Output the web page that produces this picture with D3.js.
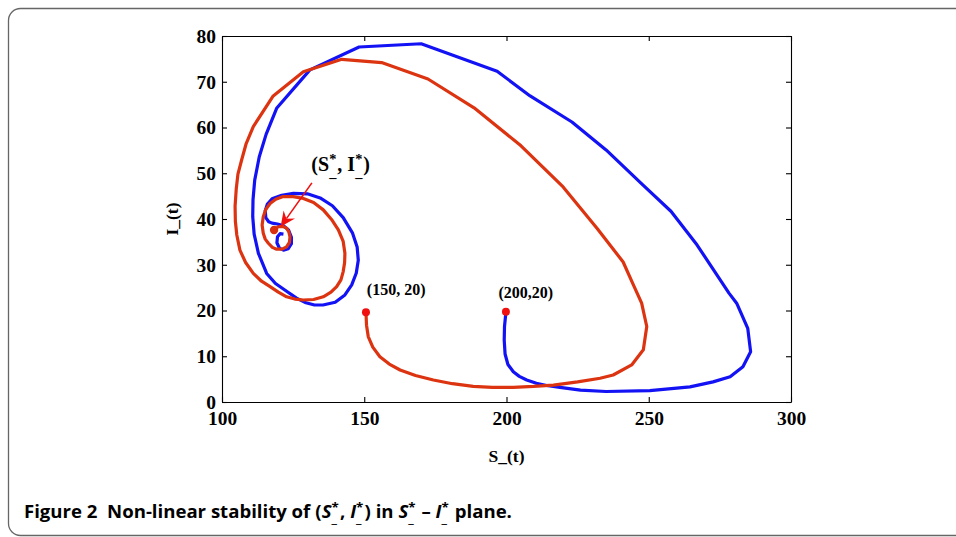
<!DOCTYPE html>
<html>
<head>
<meta charset="utf-8">
<script src="https://cdn.jsdelivr.net/npm/d3@7"></script>
<style>
  body { margin: 0; background: #fff; }
  svg { display: block; }
  .tick text { font-family: "Liberation Serif", serif; font-weight: bold; font-size: 19.5px; fill: #000; }
  .axis path, .axis line { stroke: #000; stroke-width: 1.1; }
  .rich text { white-space: pre; }
</style>
</head>
<body>
<div id="chart"></div>
<script>
// trajectories in the (S_, I_) plane
var blueTraj = [
  [199.8,19.7],[199.3,16.5],[199.2,13.5],[199.5,10.5],[200.5,8.2],[202.4,6.6],[204.5,5.6],[207.1,4.8],
  [210.5,4.1],[214.1,3.6],[218.8,3.2],[226,2.6],[235,2.3],[250.4,2.5],[264.5,3.3],[272.6,4.4],
  [278.6,5.5],[283.1,7.7],[285.8,11],[284.8,16.1],[280.9,21.6],[278.2,23.8],[267,34.3],[257.8,41.7],
  [248,47.4],[235,55.1],[223,61.2],[208.3,66.9],[196.7,72.3],[170,78.3],[148.2,77.6],[130.9,72.6],
  [119.2,64.2],[115.5,58.5],[113.1,53.6],[111.5,48.5],[110.9,44.2],[110.8,40.5],[111.3,36.7],
  [112.8,32.5],[115.7,28.1],[118.8,25.9],[122.7,24.2],[126.2,22.7],[129.5,21.7],[132.5,21.2],
  [135.5,21.2],[139.8,21.8],[143.2,23.4],[145.6,25.6],[147.2,28.2],[147.9,31],[147.5,33.9],
  [145.9,36.9],[142.6,40.3],[138.8,42.9],[134.5,44.6],[130,45.5],[125.1,45.6],[121,45.2],
  [117.6,44.4],[115.9,43.2],[115.2,41.8],[115.4,40.3],[116.4,39.4],[117.6,39.1],[119.5,38.9],
  [121.6,38.5],[123.4,37.6],[124.4,36],[124.4,34.6],[123.3,33.5],[121.6,33.2],[120.2,33.6],
  [119.3,34.8],[119.5,36.1],[120.4,36.8],[121.6,36.7]
];
var redTraj = [
  [150.6,19.6],[150.8,16.8],[151.4,14.3],[153,12],[155.5,9.9],[158.8,8.3],[162.6,7],[168,5.8],
  [174.3,4.8],[181,4],[188.3,3.4],[195,3.2],[202.4,3.2],[209.5,3.4],[216.5,3.7],[225,4.4],
  [232.9,5.2],[237.5,5.9],[244,8.1],[248.1,11.4],[249.3,16.5],[247.5,21.6],[244.6,25.6],
  [241,30.6],[231.8,38],[219.9,47],[205.1,56],[188.6,64.3],[172.4,70.6],[156.1,74.2],[142.1,74.9],
  [128.6,72.2],[118,66.9],[111,60.2],[108.5,56.5],[106.9,52.9],[105.6,49.8],[105,46.5],
  [104.6,42.8],[104.7,39.5],[105.2,36.5],[106.3,33.2],[108.3,30.5],[111,28.1],[113.9,26.4],
  [116.9,25.2],[119.8,24],[122.7,23],[125.6,22.5],[128.6,22.3],[132.2,22.4],[135.6,23],
  [138.3,24],[140.3,25.2],[141.8,26.7],[142.6,28.5],[143.1,30.5],[143.2,32.5],[142.6,35.1],
  [140.9,37.6],[138.5,39.9],[135.6,42],[132.2,43.6],[128.6,44.5],[125,44.9],[121.5,44.9],
  [118.9,44.3],[116.9,43.4],[115.4,42.1],[114.5,40.5],[114.1,38.7],[114.5,36.9],[115.2,35.6],
  [116.3,34.7],[117.7,33.8],[119.2,33.4],[121.1,33.4],[122.7,33.9],[123.7,34.9],[123.9,36.1],
  [123.5,37.2],[122.7,38],[121.3,38.4],[119.8,38.3],[118.6,37.8],[118.3,37.6]
];
var startPoints = [[150.6,19.6],[199.8,19.7]];
var startLabels = ["(150, 20)", "(200,20)"];
var startLabelPos = [[150.9,23.3],[197.2,22.7]];
var equilibrium = [118.3,37.6];
var arrowTail = [131.6,47.9], arrowTip = [120.6,38.3];
var eqLabelPos = [131.4,50.4];
var xTicks = [100,150,200,250,300];
var yTicks = [0,10,20,30,40,50,60,70,80];

var W = 956, H = 537;
var m = {top: 36, right: 165, bottom: 135, left: 222}
    , w = 791 - m.left
    , h = 402 - m.top;

var svg = d3.select("#chart").append("svg")
    .attr("width", W)
    .attr("height", H);

// frame round the figure
svg.append("rect")
    .attr("x", 8.5).attr("y", 8.5)
    .attr("width", 1000).attr("height", 527)
    .attr("rx", 12)
    .attr("fill", "none")
    .attr("stroke", "#666")
    .attr("stroke-width", 1.3);

var g = svg.append("g")
    .attr("transform", "translate(" + m.left + "," + m.top + ")");

var x = d3.scaleLinear().domain([100, 300]).range([0, w]);
var y = d3.scaleLinear().domain([0, 80]).range([h, 0]);

//Axes (ticks pointing inwards, box on all four sides)
g.append("g").attr("class", "axis")
    .attr("transform", "translate(0," + h + ")")
    .call(d3.axisBottom(x).tickValues(xTicks).tickSize(-5).tickSizeOuter(0).tickPadding(9));
g.append("g").attr("class", "axis")
    .call(d3.axisLeft(y).tickValues(yTicks).tickSize(-5).tickSizeOuter(0).tickPadding(6));
g.append("g").attr("class", "axis")
    .call(d3.axisTop(x).tickValues(xTicks).tickSize(-5).tickSizeOuter(0).tickFormat(""));
g.append("g").attr("class", "axis")
    .attr("transform", "translate(" + w + ",0)")
    .call(d3.axisRight(y).tickValues(yTicks).tickSize(-5).tickSizeOuter(0).tickFormat(""));
g.selectAll(".tick text").attr("font-family", null).attr("font-size", null);

var line = d3.line()
    .x(function(d) { return x(d[0]); })
    .y(function(d) { return y(d[1]); });

g.append("path").datum(blueTraj)
    .attr("d", line)
    .attr("fill", "none")
    .attr("stroke", "#1212f5")
    .attr("stroke-width", 3.2)
    .attr("stroke-linejoin", "round");

g.append("path").datum(redTraj)
    .attr("d", line)
    .attr("fill", "none")
    .attr("stroke", "#dc3411")
    .attr("stroke-width", 3.2)
    .attr("stroke-linejoin", "round");

// starting points and equilibrium
g.selectAll(".start").data(startPoints).enter().append("circle")
    .attr("class", "start")
    .attr("cx", function(d) { return x(d[0]); })
    .attr("cy", function(d) { return y(d[1]); })
    .attr("r", 4)
    .attr("fill", "#f01010");

g.append("circle")
    .attr("cx", x(equilibrium[0])).attr("cy", y(equilibrium[1]))
    .attr("r", 4.2)
    .attr("fill", "#d8300e");

g.selectAll(".startLabel").data(startLabels).enter().append("text")
    .attr("class", "startLabel")
    .attr("x", function(d, i) { return x(startLabelPos[i][0]); })
    .attr("y", function(d, i) { return y(startLabelPos[i][1]); })
    .attr("font-family", "Liberation Serif, serif")
    .attr("font-weight", "bold")
    .attr("font-size", 16)
    .text(function(d) { return d; });

// arrow pointing to the equilibrium
var ax0 = x(arrowTail[0]), ay0 = y(arrowTail[1]),
    ax1 = x(arrowTip[0]), ay1 = y(arrowTip[1]);
var ang = Math.atan2(ay1 - ay0, ax1 - ax0);
var hl = 15, hw = 7;
function pt(dl, dw) {
    return [ax1 - dl * Math.cos(ang) - dw * Math.sin(ang),
            ay1 - dl * Math.sin(ang) + dw * Math.cos(ang)];
}
g.append("line")
    .attr("x1", ax0).attr("y1", ay0)
    .attr("x2", pt(10, 0)[0]).attr("y2", pt(10, 0)[1])
    .attr("stroke", "#f01010")
    .attr("stroke-width", 1.6);
g.append("path")
    .attr("d", "M" + [ax1, ay1] + "L" + pt(hl, hw) + "L" + pt(hl - 5, 0) + "L" + pt(hl, -hw) + "Z")
    .attr("fill", "#f01010");

// rich text: pieces laid out one after another, star over underscore
function rich(parent, x0, y0, parts, size, family, weight) {
    var t = parent.append("g").attr("class", "rich")
        .attr("font-family", family).attr("font-weight", weight)
        .attr("transform", "translate(" + x0 + "," + y0 + ")");
    var cx = 0;
    parts.forEach(function(p) {
        if (p.stack) {
            var a = t.append("text").attr("x", cx).attr("y", -size * 0.38)
                .attr("font-size", size * 0.72).text(p.stack[0]);
            var b = t.append("text").attr("x", cx).attr("y", size * 0.28)
                .attr("font-size", size * 0.72).text(p.stack[1]);
            cx += Math.max(a.node().getComputedTextLength(), b.node().getComputedTextLength()) + 1;
        } else {
            var s = t.append("text").attr("x", cx).attr("y", 0)
                .attr("font-size", size)
                .attr("font-style", p.it ? "italic" : null)
                .text(p.t);
            cx += s.node().getComputedTextLength();
        }
    });
    return {g: t, width: cx};
}

rich(g, x(eqLabelPos[0]), y(eqLabelPos[1]),
    [{t: "(S"}, {stack: ["*", "_"]}, {t: ", I"}, {stack: ["*", "_"]}, {t: ")"}],
    20, "Liberation Serif, serif", "bold");

// axis titles
svg.append("text")
    .attr("x", m.left + w / 2).attr("y", 462)
    .attr("text-anchor", "middle")
    .attr("font-family", "Liberation Serif, serif")
    .attr("font-weight", "bold")
    .attr("font-size", 17.5)
    .text("S_(t)");

svg.append("text")
    .attr("transform", "translate(178," + (m.top + h / 2) + ") rotate(-90)")
    .attr("text-anchor", "middle")
    .attr("font-family", "Liberation Serif, serif")
    .attr("font-weight", "bold")
    .attr("font-size", 17.5)
    .text("I_(t)");

// caption
var cap = rich(svg, 24, 518,
    [{t: "Figure 2  Non-linear stability of ("}, {t: "S", it: true}, {stack: ["*", "_"]},
     {t: ", "}, {t: "I", it: true}, {stack: ["*", "_"]}, {t: ") in "},
     {t: "S", it: true}, {stack: ["*", "_"]}, {t: " – "}, {t: "I", it: true}, {stack: ["*", "_"]},
     {t: " plane."}],
    17, "Open Sans, sans-serif", "bold");
var sx = 488 / cap.width;
cap.g.attr("transform", "translate(24,518) scale(" + sx + ",1)");
</script>
</body>
</html>
